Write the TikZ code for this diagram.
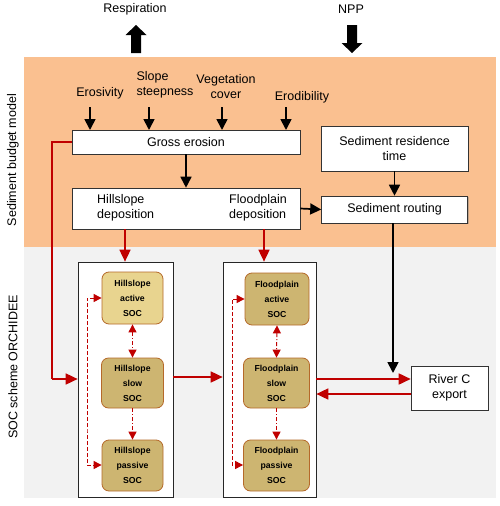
\documentclass[tikz,border=0pt]{standalone}
\usepackage{fontspec}
\setmainfont{Liberation Sans}
\usetikzlibrary{arrows.meta,shadows,calc}
\definecolor{orangebg}{HTML}{FAC090}
\definecolor{greybg}{HTML}{F2F2F2}
\definecolor{socdark}{HTML}{CDB571}
\definecolor{soclight}{HTML}{E8D48F}
\definecolor{socborder}{HTML}{B5692A}
\definecolor{redc}{HTML}{C00000}
\begin{document}
\begin{tikzpicture}[x=1pt,y=-1pt,
  every node/.style={font=\fontsize{12.5}{15}\selectfont, inner sep=0pt},
  whitebox/.style={draw=black!80, line width=0.6pt, fill=white, drop shadow={shadow xshift=1.2pt, shadow yshift=-1.2pt, opacity=0.45}, align=center},
  container/.style={draw=black!85, line width=0.7pt, fill=white, drop shadow={shadow xshift=1.2pt, shadow yshift=-1.2pt, opacity=0.35}},
  socbox/.style={draw=socborder, line width=0.8pt, fill=socdark, rounded corners=7pt, align=center, font=\fontsize{8.7}{15}\selectfont\bfseries},
  blk/.style={draw=black, line width=1.7pt, -{Triangle[length=11pt,width=11pt]}},
  redarr/.style={draw=redc, line width=1.7pt, -{Triangle[length=12pt,width=11pt]}},
  redline/.style={draw=redc, line width=1.7pt},
  dashdotbase/.style={draw=redc, line width=1pt, dash pattern=on 4pt off 2pt on 1pt off 2pt},
  dashdotboth/.style={dashdotbase, {Triangle[length=8pt,width=8pt]}-{Triangle[length=8pt,width=8pt]}},
  dashdotone/.style={dashdotbase, -{Triangle[length=8pt,width=8pt]}},
  dashedred/.style={draw=redc, line width=1pt, dash pattern=on 4pt off 2pt, {Triangle[length=8pt,width=8pt]}-{Triangle[length=8pt,width=8pt]}},
]
\useasboundingbox (0,0) rectangle (500,506);
% backgrounds
\fill[orangebg] (24,57) rectangle (496,247);
\fill[greybg] (24,247) rectangle (496,498);

% side labels
\node[rotate=90] (lab1) at (13,160) {Sediment budget model};
\node[rotate=90] (lab2) at (13,367) {SOC scheme ORCHIDEE};

% top
\node (resp) at (135,9) {Respiration};
\node (npp) at (351,9) {NPP};
\fill[black] (131,53) -- (141,53) -- (141,35) -- (146.5,35) -- (136,25) -- (125.5,35) -- (131,35) -- cycle;
\fill[black] (347,25) -- (357,25) -- (357,43) -- (362.5,43) -- (352,53) -- (341.5,43) -- (347,43) -- cycle;

% input labels
\node (eros) at (100,93) {Erosivity};
\node[align=left] (slope) at (165,84.5) {Slope\\steepness};
\node[align=center] (veg) at (226,86.5) {Vegetation\\cover};
\node (erod) at (302,97) {Erodibility};

% boxes
\node[whitebox, minimum width=228pt, minimum height=24pt] (gross) at (186,142) {Gross erosion};
\node[whitebox, minimum width=228pt, minimum height=41pt] (dep) at (186,208.5) {};
\node[align=left, anchor=west] (hdep) at (97,208) {Hillslope\\deposition};
\node[align=left, anchor=west] (fdep) at (229,208) {Floodplain\\deposition};
\node[whitebox, minimum width=147pt, minimum height=45pt] (res) at (394.5,148.5) {Sediment residence\\time};
\node[whitebox, minimum width=146pt, minimum height=27pt] (rout) at (394.5,209.5) {Sediment routing};
\node[whitebox, minimum width=77pt, minimum height=44pt] (river) at (449.5,388) {River C\\export};

% containers
\node[container, minimum width=95pt, minimum height=235pt] (hcont) at (125.5,379.5) {};
\node[container, minimum width=93pt, minimum height=235pt] (fcont) at (269.5,379.5) {};

% SOC boxes
\node[socbox, fill=soclight, minimum width=61pt, minimum height=52pt] (ha) at (132.5,298) {Hillslope\\active\\SOC};
\node[socbox, minimum width=62pt, minimum height=50pt] (hs) at (132.5,383) {Hillslope\\slow\\SOC};
\node[socbox, minimum width=61pt, minimum height=51pt] (hp) at (132.5,465.5) {Hillslope\\passive\\SOC};
\node[socbox, minimum width=64pt, minimum height=52pt] (fa) at (277,299) {Floodplain\\active\\SOC};
\node[socbox, minimum width=66pt, minimum height=50pt] (fs) at (276.5,383) {Floodplain\\slow\\SOC};
\node[socbox, minimum width=66pt, minimum height=51pt] (fp) at (276.5,465.5) {Floodplain\\passive\\SOC};

% black arrows
\foreach \xx in {90,149,222,286} {
  \draw[blk] (\xx,107) -- (\xx,130);
}
\draw[blk] (gross.south) -- (dep.north);
\draw[blk] (res.south) -- (rout.north);
\draw[blk] (dep.east) -- (rout.west);
\coordinate (routend) at (393,373);
\draw[blk] (rout.south -| routend) -- (routend);

% red connectors
\draw[redline] (gross.west) -- (52,142) -- (52,379);
\draw[redarr] (52,379) -- (hcont.west |- 0,379);
\draw[redarr] (125,229) -- (hcont.north -| 125,0);
\draw[redarr] (264,229) -- (fcont.north -| 264,0);
\draw[redarr] (hcont.east |- 0,377) -- (fcont.west |- 0,377);
\draw[redarr] (fcont.east |- 0,379) -- (river.west |- 0,379);
\draw[redarr] (river.west |- 0,394) -- (fcont.east |- 0,394);

% internal dashed connectors
\draw[dashdotboth] (ha.south) -- (hs.north);
\draw[dashdotone] (hs.south) -- (hp.north);
\draw[dashedred] (ha.west |- 0,298) -| (87,432) |- (hp.west |- 0,465);
\draw[dashdotboth] (fa.south) -- (fs.north);
\draw[dashdotone] (fs.south) -- (fp.north);
\draw[dashedred] (fa.west |- 0,299) -| (232,432) |- (fp.west |- 0,465);
\end{tikzpicture}
\end{document}
